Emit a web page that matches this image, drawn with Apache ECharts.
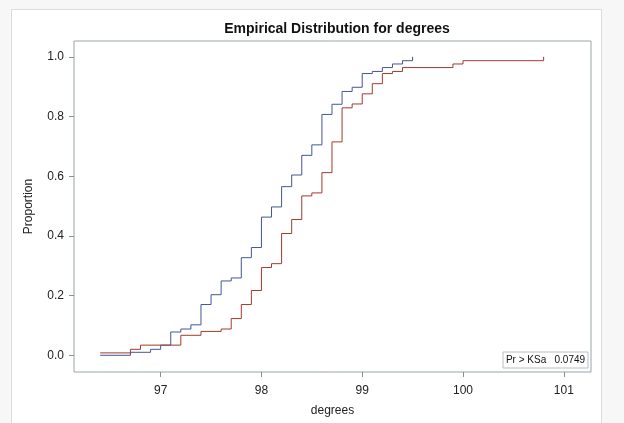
<!DOCTYPE html>
<html>
<head>
<meta charset="utf-8">
<script src="https://cdn.jsdelivr.net/npm/echarts@6/dist/echarts.min.js"></script>
<style>
	body{ margin:0; background:#f7f7f7; }
	.frame{ position:absolute; left:11px; top:9px; width:589px; height:440px; background:#fff; border:1px solid #dddddd; }
	#main{ position:absolute; left:0; top:0; width:624px; height:423px; }
</style>
</head>
<body>
<div class="frame"></div>
<div id="main"></div>
<script>
	// blue curve (first group)
	var blueX = [96.4, 96.7, 96.9, 97.0, 97.1, 97.2, 97.3, 97.4, 97.5, 97.6, 97.7, 97.8, 97.9, 98.0, 98.1, 98.2, 98.3, 98.4, 98.5, 98.6, 98.7, 98.8, 98.9, 99.0, 99.1, 99.2, 99.3, 99.4, 99.5];
	var blueY = [0.000, 0.010, 0.020, 0.034, 0.078, 0.088, 0.102, 0.170, 0.203, 0.249, 0.259, 0.327, 0.361, 0.463, 0.497, 0.565, 0.604, 0.670, 0.705, 0.807, 0.841, 0.884, 0.898, 0.944, 0.951, 0.964, 0.976, 0.987, 1.000];
	// red curve (second group)
	var redX = [96.4, 96.7, 96.8, 97.2, 97.4, 97.6, 97.7, 97.8, 97.9, 98.0, 98.1, 98.2, 98.3, 98.4, 98.5, 98.6, 98.7, 98.8, 98.9, 99.0, 99.1, 99.2, 99.3, 99.4, 99.9, 100.0, 100.8];
	var redY = [0.008, 0.020, 0.034, 0.067, 0.080, 0.088, 0.123, 0.170, 0.217, 0.294, 0.307, 0.408, 0.455, 0.534, 0.544, 0.612, 0.715, 0.829, 0.842, 0.876, 0.910, 0.944, 0.951, 0.964, 0.976, 0.987, 1.000];
	var xTicks = [97, 98, 99, 100, 101];
	var yTicks = [0, 0.2, 0.4, 0.6, 0.8, 1.0];
	var ksText = 'Pr > KSa   0.0749';

	function pairs(xs, ys){
		var out = [];
		for(var i = 0; i < xs.length; i++){
			out.push([xs[i], ys[i]]);
		}
		return out;
	}

	var font = '"Liberation Sans", Arial, sans-serif';
	var chart = echarts.init(document.getElementById('main'));
	var option = {
		animation: false,
		backgroundColor: 'transparent',
		title: {
			text: 'Empirical Distribution for degrees',
			left: 332,
			textAlign: 'center',
			top: 17,
			textStyle: { fontFamily: font, fontSize: 14, fontWeight: 'bold', color: '#111' }
		},
		grid: {
			left: 74, right: 33, top: 41, bottom: 51,
			show: true, borderColor: '#9aa5a8', borderWidth: 1
		},
		xAxis: {
			type: 'value',
			min: 96.14, max: 101.27,
			name: 'degrees',
			nameLocation: 'middle',
			nameGap: 33,
			nameTextStyle: { fontFamily: font, fontSize: 12, color: '#222' },
			splitLine: { show: false },
			axisLine: { show: false, onZero: false },
			axisTick: { show: true, length: 5, customValues: xTicks, lineStyle: { color: '#8a8f92' } },
			axisLabel: { customValues: xTicks, fontFamily: font, fontSize: 12, color: '#222', margin: 13 }
		},
		yAxis: {
			type: 'value',
			min: -0.056, max: 1.053,
			name: 'Proportion',
			nameLocation: 'middle',
			nameGap: 39,
			nameTextStyle: { fontFamily: font, fontSize: 12, color: '#222' },
			splitLine: { show: false },
			axisLine: { show: false, onZero: false },
			axisTick: { show: true, length: 5, customValues: yTicks, lineStyle: { color: '#8a8f92' } },
			axisLabel: {
				customValues: yTicks, fontFamily: font, fontSize: 12, color: '#222', margin: 10,
				formatter: function(v){ return v.toFixed(1); }
			}
		},
		graphic: [
			{
				type: 'rect',
				shape: { x: 503, y: 352, width: 85, height: 16 },
				style: { fill: '#fff', stroke: '#b8bcbe', lineWidth: 1 },
				z: 100
			},
			{
				type: 'text',
				x: 545.5, y: 360,
				style: { text: ksText, fontFamily: font, fontSize: 10, fill: '#111', align: 'center', verticalAlign: 'middle' },
				z: 101
			}
		],
		series: [
			{
				name: 'blue',
				type: 'line',
				step: 'end',
				showSymbol: false,
				data: pairs(blueX, blueY),
				lineStyle: { color: '#445694', width: 1 },
				itemStyle: { color: '#445694' }
			},
			{
				name: 'red',
				type: 'line',
				step: 'end',
				showSymbol: false,
				data: pairs(redX, redY),
				lineStyle: { color: '#A23A2E', width: 1 },
				itemStyle: { color: '#A23A2E' }
			}
		]
	};
	chart.setOption(option);
</script>
</body>
</html>
